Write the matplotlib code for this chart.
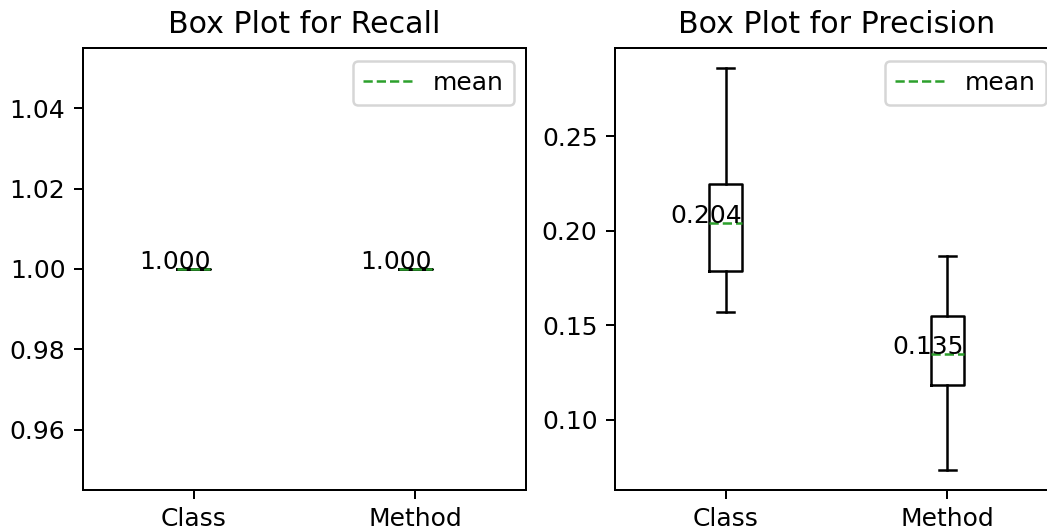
import matplotlib
matplotlib.use("Agg")
import matplotlib.pyplot as plt
from matplotlib.lines import Line2D

categories = ["Class", "Method"]

# Recall summary statistics (all values equal 1.0)
recall_whislo = [1.0, 1.0]
recall_q1 = [1.0, 1.0]
recall_med = [1.0, 1.0]
recall_mean = [1.0, 1.0]
recall_q3 = [1.0, 1.0]
recall_whishi = [1.0, 1.0]

# Precision summary statistics
prec_whislo = [0.157, 0.0735]
prec_q1 = [0.1785, 0.1185]
prec_med = [0.200, 0.135]
prec_mean = [0.2039, 0.1347]
prec_q3 = [0.2246, 0.1551]
prec_whishi = [0.2860, 0.1865]

titles = ["Box Plot for Recall", "Box Plot for Precision"]

W, H, DPI = 1047, 529, 180
fig = plt.figure(figsize=(W / DPI, H / DPI), dpi=DPI)

ax_bottom = (H - 490) / H
ax_h = 442 / H
ax1 = fig.add_axes([83 / W, ax_bottom, 443 / W, ax_h])
ax2 = fig.add_axes([615 / W, ax_bottom, 443 / W, ax_h])

box_w = 0.15
positions = [1, 2]


def make_stats(wl, q1, med, mean, q3, wh):
    out = []
    for i, lab in enumerate(categories):
        out.append(dict(label=lab, whislo=wl[i], q1=q1[i], med=med[i],
                        mean=mean[i], q3=q3[i], whishi=wh[i], fliers=[]))
    return out


datasets = [
    make_stats(recall_whislo, recall_q1, recall_med, recall_mean, recall_q3, recall_whishi),
    make_stats(prec_whislo, prec_q1, prec_med, prec_mean, prec_q3, prec_whishi),
]

for ax, stats, title in zip([ax1, ax2], datasets, titles):
    ax.bxp(stats, positions=positions, widths=box_w, showmeans=True, meanline=True,
           showfliers=False,
           medianprops=dict(visible=False),
           meanprops=dict(color="C2", linestyle="--", linewidth=1))
    for p, s in zip(positions, stats):
        ax.text(p + box_w / 2, s["mean"], f"{s['mean']:.3f}", ha="right", va="baseline",
                fontsize=10)
    ax.set_title(title)
    handle = Line2D([], [], color="C2", linestyle="--", linewidth=1)
    ax.legend([handle], ["mean"], loc="upper right")

fig.savefig("out.png", dpi=DPI)
